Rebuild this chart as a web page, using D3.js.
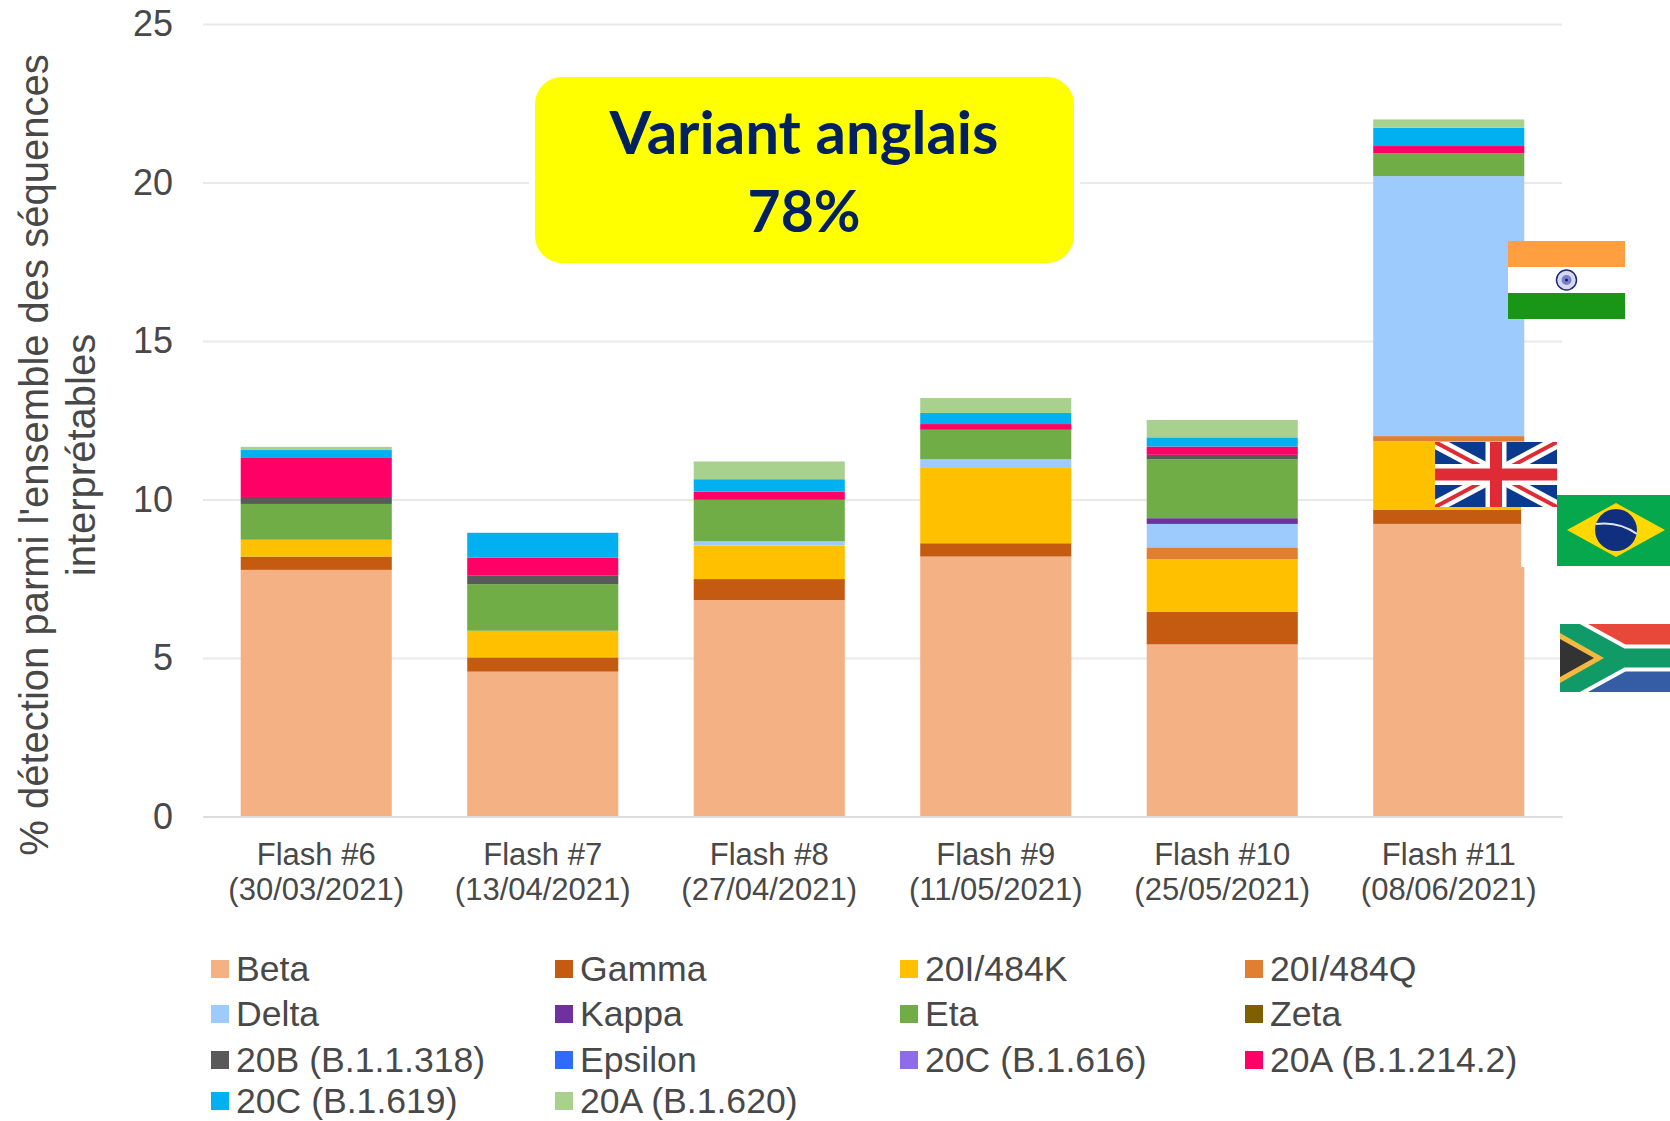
<!DOCTYPE html>
<html>
<head>
<meta charset="utf-8">
<script src="https://cdn.jsdelivr.net/npm/d3@7"></script>
<style>
    html, body { margin: 0; padding: 0; background: #fff; }
    svg { display: block; }
    text { font-family: "Liberation Sans", Arial, sans-serif; fill: #484848; }
</style>
</head>
<body>
<div id="chart"></div>
<script>
var flashes = ["Flash #6", "Flash #7", "Flash #8", "Flash #9", "Flash #10", "Flash #11"];
var dates = ["(30/03/2021)", "(13/04/2021)", "(27/04/2021)", "(11/05/2021)", "(25/05/2021)", "(08/06/2021)"];
var y_ticks = [0, 5, 10, 15, 20, 25];

var variants = ["Beta", "Gamma", "20I/484K", "20I/484Q", "Delta", "Kappa", "Eta", "Zeta",
    "20B (B.1.1.318)", "Epsilon", "20C (B.1.616)", "20A (B.1.214.2)", "20C (B.1.619)", "20A (B.1.620)"];
var variant_colors = ["#f4b183", "#c55a11", "#ffc000", "#e07f32", "#9dcbfd", "#7030a0", "#70ad47", "#7f6000",
    "#595959", "#2f6bff", "#8e6be8", "#ff0066", "#00b0f0", "#a9d18e"];

// one list per variant, one value per flash survey
var beta = [7.78, 4.57, 6.83, 8.2, 5.43, 9.23];
var gamma = [0.42, 0.45, 0.66, 0.42, 1.03, 0.44];
var k484 = [0.53, 0.84, 1.06, 2.4, 1.66, 2.17];
var q484 = [0, 0, 0, 0, 0.37, 0.16];
var delta = [0, 0, 0.13, 0.25, 0.74, 8.2];
var kappa = [0, 0, 0, 0, 0.18, 0];
var eta = [1.13, 1.47, 1.31, 0.93, 1.86, 0.72];
var zeta = [0, 0, 0, 0, 0, 0];
var b1318 = [0.22, 0.28, 0, 0, 0.14, 0];
var epsilon = [0, 0, 0, 0, 0, 0];
var b1616 = [0, 0, 0, 0, 0, 0];
var b12142 = [1.23, 0.56, 0.26, 0.18, 0.26, 0.23];
var b1619 = [0.25, 0.78, 0.39, 0.35, 0.29, 0.58];
var b1620 = [0.1, 0, 0.56, 0.47, 0.55, 0.26];
var series_values = [beta, gamma, k484, q484, delta, kappa, eta, zeta, b1318, epsilon, b1616, b12142, b1619, b1620];

var svg = d3.select("#chart").append("svg")
    .attr("width", 1670)
    .attr("height", 1121);

var x = d3.scaleBand().domain(flashes).range([203, 1562]).paddingInner(0.333).paddingOuter(0.1665);
var y = d3.scaleLinear().domain([0, 25]).range([816.5, 24]);

// builds rows for d3.stack from the small arrays above
var rows = flashes.map(function(f, i) {
    var row = { flash: f };
    variants.forEach(function(v, j) { row[v] = series_values[j][i]; });
    return row;
});
var stacked = d3.stack().keys(variants)(rows);

// y axis + gridlines
var y_axis = svg.append("g")
    .attr("transform", "translate(203,0)")
    .call(d3.axisLeft(y).tickValues(y_ticks).tickSize(-1359).tickPadding(30));
y_axis.select(".domain").remove();
y_axis.selectAll("line").attr("stroke", "#e9e9e9").attr("stroke-width", 2);
y_axis.selectAll("text").style("font-size", "36px").style("font-family", "Liberation Sans");

// bars
svg.append("g").selectAll("g")
    .data(stacked)
    .join("g")
    .attr("fill", function(d, i) { return variant_colors[i]; })
    .selectAll("rect")
    .data(function(d) { return d; })
    .join("rect")
    .attr("x", function(d) { return x(d.data.flash); })
    .attr("width", x.bandwidth())
    .attr("y", function(d) { return y(d[1]); })
    .attr("height", function(d) { return y(d[0]) - y(d[1]); });

// x axis, second line of each label is the date
var x_axis = svg.append("g")
    .attr("transform", "translate(0,816.5)")
    .call(d3.axisBottom(x).tickSize(0).tickPadding(0));
x_axis.select(".domain").attr("stroke", "#dcdcdc").attr("stroke-width", 2);
x_axis.selectAll("text").remove();
x_axis.selectAll(".tick").each(function(d, i) {
    var t = d3.select(this).append("text")
        .attr("text-anchor", "middle")
        .style("font-size", "31px");
    t.append("tspan").attr("x", 0).attr("y", 48).text(flashes[i]);
    t.append("tspan").attr("x", 0).attr("y", 83).text(dates[i]);
});

// y axis title
var title = svg.append("text")
    .attr("transform", "translate(48,455) rotate(-90)")
    .attr("text-anchor", "middle")
    .style("font-size", "40px");
title.append("tspan").attr("x", 0).attr("y", 0).text("% détection parmi l'ensemble des séquences");
title.append("tspan").attr("x", 0).attr("y", 47).text("interprétables");

// legend, 4 columns
var legend_x = [211, 555, 900, 1245];
var legend_y = [969, 1014, 1060, 1101];
var legend = svg.append("g").selectAll("g")
    .data(variants)
    .join("g")
    .attr("transform", function(d, i) {
        return "translate(" + legend_x[i % 4] + "," + legend_y[Math.floor(i / 4)] + ")";
    });
legend.append("rect")
    .attr("x", 0).attr("y", -9)
    .attr("width", 18).attr("height", 18)
    .attr("fill", function(d, i) { return variant_colors[i]; });
legend.append("text")
    .attr("x", 25)
    .attr("dy", "0.34em")
    .style("font-size", "35.6px")
    .text(function(d) { return d; });

// yellow callout, white halo hides the gridline behind it
svg.append("rect").attr("x", 529).attr("y", 71).attr("width", 551).attr("height", 198).attr("fill", "#fff");
svg.append("rect").attr("x", 535).attr("y", 77).attr("width", 539).attr("height", 186).attr("rx", 27)
    .attr("fill", "#ffff00");
svg.append("text").attr("x", 804).attr("y", 154).attr("text-anchor", "middle")
    .style("font-family", "Lato").style("font-weight", "700").style("font-size", "60px").style("fill", "#002060")
    .text("Variant anglais");
svg.append("text").attr("x", 804).attr("y", 232).attr("text-anchor", "middle")
    .style("font-family", "Lato").style("font-weight", "700").style("font-size", "57px").style("fill", "#002060")
    .text("78%");

// flags are pasted on top of the chart, nested svg clips each one to its box
function flagBox(left, top, w, h) {
    return svg.append("svg").attr("x", left).attr("y", top).attr("width", w).attr("height", h);
}

function drawIndia(g, w, h) {
    g.append("rect").attr("width", w).attr("height", h / 3).attr("fill", "#ff9f40");
    g.append("rect").attr("y", h / 3).attr("width", w).attr("height", h / 3).attr("fill", "#fff");
    g.append("rect").attr("y", 2 * h / 3).attr("width", w).attr("height", h / 3).attr("fill", "#1a9616");
    g.append("circle").attr("cx", w / 2).attr("cy", h / 2).attr("r", 10).attr("fill", "#d5d8ee").attr("stroke", "#1f2a78").attr("stroke-width", 1.5);
    g.append("circle").attr("cx", w / 2).attr("cy", h / 2).attr("r", 5).attr("fill", "#7780c8");
    g.append("circle").attr("cx", w / 2).attr("cy", h / 2).attr("r", 1.5).attr("fill", "#101a70");
}

function drawUK(g, w, h) {
    var diagonals = "M0,0L" + w + "," + h + "M" + w + ",0L0," + h;
    var cross = "M" + w / 2 + ",0V" + h + "M0," + h / 2 + "H" + w;
    g.append("rect").attr("width", w).attr("height", h).attr("fill", "#0a3a8f");
    g.append("path").attr("d", diagonals).attr("stroke", "#fff").attr("stroke-width", 13);
    g.append("path").attr("d", diagonals).attr("stroke", "#e02a36").attr("stroke-width", 4);
    g.append("path").attr("d", cross).attr("stroke", "#fff").attr("stroke-width", 21);
    g.append("path").attr("d", cross).attr("stroke", "#e02a36").attr("stroke-width", 12);
}

function drawBrazil(g, w, h) {
    g.append("rect").attr("width", w).attr("height", h).attr("fill", "#05a84c");
    g.append("path").attr("d", "M10,35L59,8L108,35L59,62Z").attr("fill", "#ffd800");
    g.append("circle").attr("cx", 59).attr("cy", 35).attr("r", 21).attr("fill", "#10307f");
    g.append("path").attr("d", "M39,29Q62,26 80,39").attr("fill", "none").attr("stroke", "#dfe6f0").attr("stroke-width", 2);
}

function drawSA(g, w, h) {
    var pall = "M0,0L62," + h / 2 + "L0," + h + "M62," + h / 2 + "H" + w;
    g.append("rect").attr("width", w).attr("height", h / 2).attr("fill", "#e8483a");
    g.append("rect").attr("y", h / 2).attr("width", w).attr("height", h / 2).attr("fill", "#345da6");
    g.append("path").attr("d", pall).attr("fill", "none").attr("stroke", "#fff").attr("stroke-width", 27);
    g.append("path").attr("d", pall).attr("fill", "none").attr("stroke", "#0f9a68").attr("stroke-width", 19);
    g.append("path").attr("d", "M0,9L44," + h / 2 + "L0," + (h - 9) + "Z").attr("fill", "#f2b840");
    g.append("path").attr("d", "M0,15L34," + h / 2 + "L0," + (h - 15) + "Z").attr("fill", "#333");
}

// white patch left of the brazil flag, cuts the side of the last bar
svg.append("rect").attr("x", 1521).attr("y", 507).attr("width", 36).attr("height", 60).attr("fill", "#fff");

drawIndia(flagBox(1508, 241, 117, 78), 117, 78);
drawUK(flagBox(1435, 442, 122, 65), 122, 65);
drawBrazil(flagBox(1557, 495, 113, 71), 113, 71);
drawSA(flagBox(1560, 624, 110, 68), 110, 68);
</script>
</body>
</html>
